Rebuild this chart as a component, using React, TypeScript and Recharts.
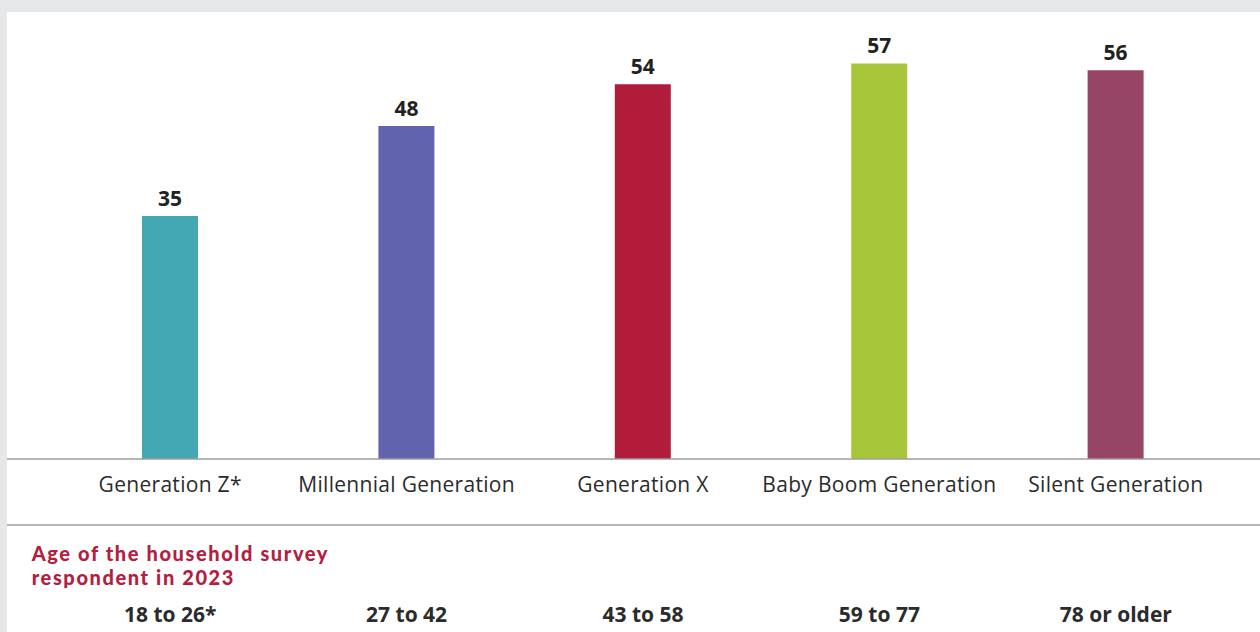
import { BarChart, Bar, XAxis, YAxis, Cell, LabelList } from "recharts";

const generations = [
    "Generation Z*",
    "Millennial Generation",
    "Generation X",
    "Baby Boom Generation",
    "Silent Generation",
];
const ages = ["18 to 26*", "27 to 42", "43 to 58", "59 to 77", "78 or older"];
const values = [35, 48, 54, 57, 56];

const COLORS = ["#43a8b4", "#6163ad", "#b01c3a", "#a8c63a", "#964565"];

const data = generations.map((name, i) => ({ name, age: ages[i], value: values[i] }));

const FONT = "'Open Sans', sans-serif";
const AXIS_PAD = { left: 45, right: 26 };

const GenTick = (props: any) => {
    const { x, y, payload } = props;
    return (
        <text x={x} y={y + 33} textAnchor="middle" fill="#2b2b2b" fontSize={21} letterSpacing={0.3} fontFamily={FONT}>
            {payload.value}
        </text>
    );
};

const AgeTick = (props: any) => {
    const { x, y, payload } = props;
    return (
        <text x={x} y={y + 97} textAnchor="middle" fill="#2b2b2b" fontSize={21} fontWeight={700} fontFamily={FONT}>
            {payload.value}
        </text>
    );
};

// red heading under the second axis line; Lato keeps the two lines' boxes apart
const AgeTitle = (props: any) => {
    const vb = props.viewBox || { x: 0, y: 0 };
    const style = { fill: "#b3203f", fontSize: 20, fontWeight: 900, fontFamily: "Lato, sans-serif", letterSpacing: 1.6 };
    return (
        <g>
            <text x={24.7} y={vb.y + 36} style={style}>Age of the household survey</text>
            <text x={24.7} y={vb.y + 60} style={style}>respondent in 2023</text>
        </g>
    );
};

export default function App() {
    return (
        <div style={{ position: "fixed", left: 0, top: 0, width: 1260, height: 632, background: "#e6e7e9" }}>
            <div style={{ position: "absolute", left: 7, top: 12, width: 1253, height: 620, background: "#ffffff" }}>
                <BarChart width={1253} height={620} data={data} margin={{ top: 30.6, right: 0, bottom: 0, left: 0 }}>
                    <YAxis hide domain={[0, 60]} />
                    <XAxis
                        dataKey="name"
                        height={66}
                        padding={AXIS_PAD}
                        axisLine={{ stroke: "#9e9e9e", strokeWidth: 1.5 }}
                        tickLine={false}
                        tickSize={0}
                        tickMargin={0}
                        interval={0}
                        tick={<GenTick />}
                    />
                    <XAxis
                        xAxisId="age"
                        dataKey="age"
                        height={107}
                        padding={AXIS_PAD}
                        axisLine={{ stroke: "#9e9e9e", strokeWidth: 1.5 }}
                        tickLine={false}
                        tickSize={0}
                        tickMargin={0}
                        interval={0}
                        tick={<AgeTick />}
                        label={{ content: <AgeTitle /> }}
                    />
                    <Bar dataKey="value" barSize={56} isAnimationActive={false}>
                        {data.map((entry, index) => (
                            <Cell key={`cell-${index}`} fill={COLORS[index % COLORS.length]} />
                        ))}
                        <LabelList
                            dataKey="value"
                            position="top"
                            offset={10}
                            fill="#222222"
                            fontSize={21}
                            fontWeight={700}
                            fontFamily={FONT}
                        />
                    </Bar>
                </BarChart>
            </div>
        </div>
    );
}
